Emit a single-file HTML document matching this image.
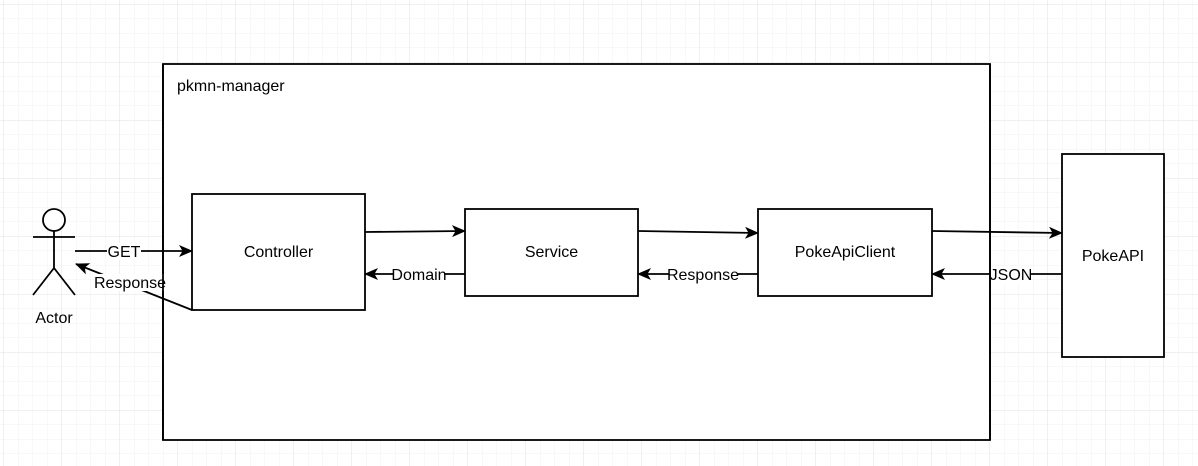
<!DOCTYPE html>
<html><head><meta charset="utf-8"><style>
html,body{margin:0;padding:0;background:#fff}
svg{display:block}
text{font-family:"Liberation Sans",Arial,sans-serif;font-size:16px;fill:#000}
</style></head><body>
<svg width="1198" height="466" viewBox="0 0 1198 466" xmlns="http://www.w3.org/2000/svg">
<defs>
<pattern id="minor" x="3.5" y="4" width="14.5" height="14.5" patternUnits="userSpaceOnUse">
<path d="M0 0H14.5M0 0V14.5" stroke="#f0f0f0" stroke-width="1" fill="none"/>
</pattern>
<pattern id="major" x="3.5" y="4" width="58" height="58" patternUnits="userSpaceOnUse">
<path d="M0 0H58M0 0V58" stroke="#e2e2e2" stroke-width="1" fill="none"/>
</pattern>
<marker id="ar" viewBox="0 0 14 12" refX="13" refY="6" markerWidth="14" markerHeight="12" markerUnits="userSpaceOnUse" orient="auto">
<path d="M0 0L14 6L0 12L3.5 6Z" fill="#000"/>
</marker>
</defs>
<rect width="1198" height="466" fill="url(#minor)"/>
<rect width="1198" height="466" fill="url(#major)"/>
<g stroke="#000" stroke-width="1.8" fill="#fff">
<rect x="163" y="64" width="827" height="376"/>
<rect x="192" y="194" width="173" height="116"/>
<rect x="465" y="209" width="173" height="87"/>
<rect x="758" y="209" width="174" height="87"/>
<rect x="1062" y="154" width="102" height="203"/>
<circle cx="54" cy="220" r="11"/>
</g>
<g stroke="#000" stroke-width="1.8" fill="none">
<path d="M33 237H75M54 231V268M54 268L33 295M54 268L75 295"/>
<path d="M365 232L465 231" marker-end="url(#ar)"/>
<path d="M638 231L758 233" marker-end="url(#ar)"/>
<path d="M932 231L1062 233" marker-end="url(#ar)"/>
<path d="M465 274H365" marker-end="url(#ar)"/>
<path d="M758 274H638" marker-end="url(#ar)"/>
<path d="M1062 274H932" marker-end="url(#ar)"/>
<path d="M75 251H192" marker-end="url(#ar)"/>
<path d="M192 310L76 264" marker-end="url(#ar)"/>
</g>
<g fill="#fff">
<rect x="107" y="243" width="34" height="17"/>
<rect x="393" y="266" width="52" height="17"/>
<rect x="669" y="266" width="68" height="17"/>
<rect x="991" y="266" width="40" height="17"/>
<rect x="95" y="274" width="70" height="17"/>
</g>
<path d="M163 64V440M990 64V440" stroke="#000" stroke-width="1.8"/>
<text x="177" y="91">pkmn-manager</text>
<text x="278.5" y="257" text-anchor="middle">Controller</text>
<text x="551.5" y="257" text-anchor="middle">Service</text>
<text x="845" y="257" text-anchor="middle">PokeApiClient</text>
<text x="1113" y="261" text-anchor="middle">PokeAPI</text>
<text x="54" y="323" text-anchor="middle">Actor</text>
<text x="124" y="257" text-anchor="middle">GET</text>
<text x="130" y="288" text-anchor="middle">Response</text>
<text x="419" y="280" text-anchor="middle">Domain</text>
<text x="703" y="280" text-anchor="middle">Response</text>
<text x="1011" y="280" text-anchor="middle">JSON</text>
</svg>
</body></html>
